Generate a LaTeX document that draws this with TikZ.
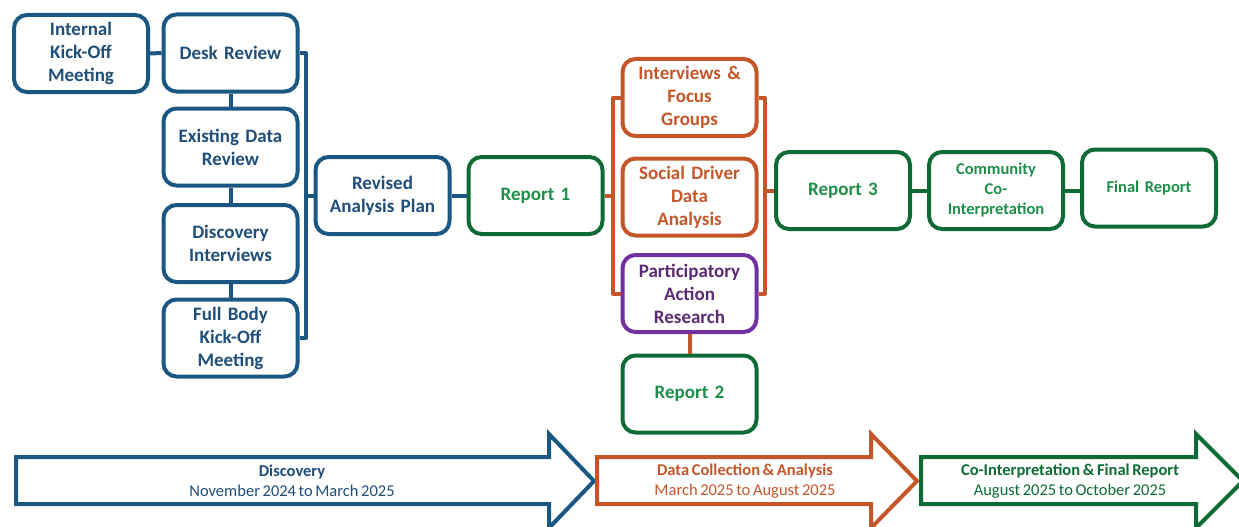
\documentclass[tikz,border=0pt]{standalone}
\usepackage{fontspec}
\setmainfont{Carlito}[WordSpace=0.7]
\definecolor{bl}{HTML}{1B5783}
\definecolor{blt}{HTML}{1F4E79}
\definecolor{og}{HTML}{C4562A}
\definecolor{gn}{HTML}{0E6B35}
\definecolor{gnt}{HTML}{1E8F48}
\definecolor{pu}{HTML}{7030A0}
\definecolor{put}{HTML}{5B2A72}
\begin{document}
\begin{tikzpicture}[x=1pt,y=-1pt,
  box/.style={draw, line width=4pt, rounded corners=13pt, minimum width=132pt, minimum height=77pt,
    align=center, font=\bfseries\fontsize{19}{23}\selectfont, inner sep=2pt, text width=130pt},
  bbox/.style={box, draw=bl, text=blt},
  obox/.style={box, draw=og, text=og},
  gbox/.style={box, draw=gn, text=gnt},
  pbox/.style={box, draw=pu, text=put},
  sbox/.style={gbox, font=\bfseries\fontsize{16.5}{20}\selectfont},
  bln/.style={draw=bl, line width=4pt},
  oln/.style={draw=og, line width=4pt},
  gln/.style={draw=gn, line width=4pt},
  arr/.style={line width=4pt, fill=white, line join=miter},
  atext/.style={align=center, font=\fontsize{16.5}{20}\selectfont},
]
\useasboundingbox (0,0) rectangle (1239,527);
% boxes
\node[bbox] (ikm) at (81,53.5) {Internal\\Kick-Off\\Meeting};
\node[bbox] (desk) at (230.5,53) {Desk Review};
\node[bbox] (exist) at (230.5,147) {Existing Data\\Review};
\node[bbox] (disc) at (230.5,243.5) {Discovery\\Interviews};
\node[bbox] (full) at (230.5,338) {Full Body\\Kick-Off\\Meeting};
\node[bbox] (rev) at (382.5,195.5) {Revised\\Analysis Plan};
\node[gbox] (r1) at (535.5,195.5) {Report 1};
\node[obox] (ifg) at (689.5,97.5) {Interviews \&\\Focus\\Groups};
\node[obox] (sdda) at (689.5,197) {Social Driver\\Data\\Analysis};
\node[pbox] (par) at (689.5,293.5) {Participatory\\Action\\Research};
\node[gbox] (r2) at (689.5,394) {Report 2};
\node[gbox] (r3) at (843,190.5) {Report 3};
\node[sbox] (comm) at (996,190.5) {Community\\Co-\\Interpretation};
\node[sbox] (fin) at (1149,188) {Final Report};
% blue connectors
\coordinate (bx) at (306,0);
\draw[bln] (ikm.east) -- (desk.west);
\draw[bln] (desk.south) -- (exist.north);
\draw[bln] (exist.south) -- (disc.north);
\draw[bln] (disc.south) -- (full.north);
\draw[bln, line join=round] (desk.east) -| (bx |- full.east) -- (full.east);
\draw[bln] (bx |- rev.west) -- (rev.west);
\draw[bln] (rev.east) -- (r1.west);
% orange connectors
\coordinate (lx) at (613,0);
\coordinate (rx) at (765,0);
\draw[oln, line join=round] (ifg.west) -| (lx |- par.west) -- (par.west);
\draw[oln] (r1.east) -- (lx |- r1.east);
\draw[oln, line join=round] (ifg.east) -| (rx |- par.east) -- (par.east);
\draw[oln] (rx |- r3.west) -- (r3.west);
\draw[oln] (par.south) -- (r2.north);
% green connectors
\draw[gln] (r3.east) -- (comm.west);
\draw[gln] (comm.east) -- (comm.east -| fin.west);
% timeline arrows
\draw[arr, draw=bl] (16,457) -- (549,457) -- (549,434) -- (594,481) -- (549,528) -- (549,504) -- (16,504) -- cycle;
\draw[arr, draw=og] (597,457) -- (871,457) -- (871,434) -- (917,481) -- (871,528) -- (871,504) -- (597,504) -- cycle;
\begin{scope}
\clip (0,0) rectangle (1239,527);
\draw[arr, draw=gn] (921,457) -- (1196,457) -- (1196,434) -- (1243,481) -- (1196,528) -- (1196,504) -- (921,504) -- cycle;
\end{scope}
\node[atext, text=blt] (t1) at (292,481) {\textbf{Discovery}\\November 2024 to March 2025};
\node[atext, text=og] (t2) at (745,481) {\textbf{Data Collection \& Analysis}\\March 2025 to August 2025};
\node[atext, text=gn] (t3) at (1070,481) {\textbf{Co-Interpretation \& Final Report}\\August 2025 to October 2025};
\end{tikzpicture}
\end{document}
